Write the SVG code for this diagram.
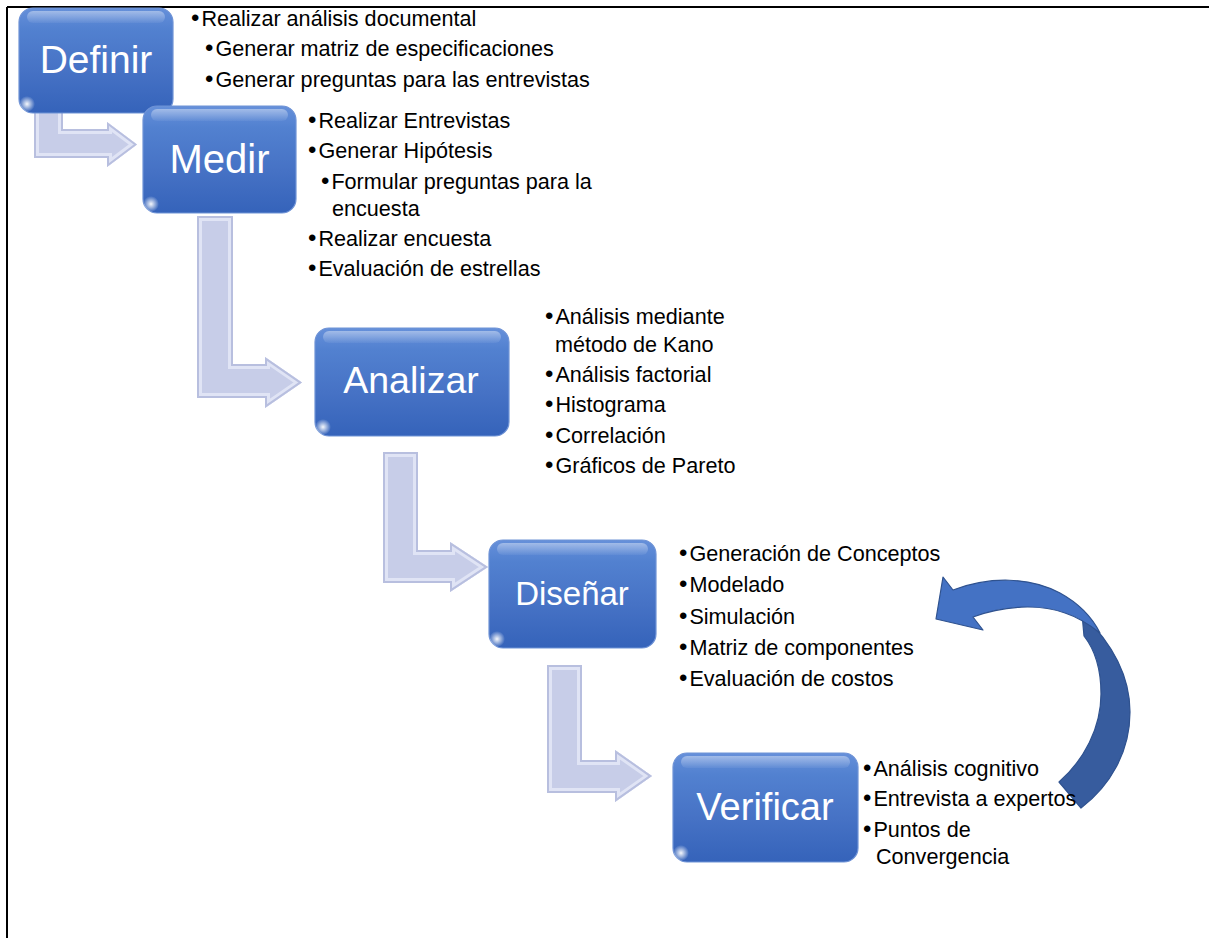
<svg xmlns="http://www.w3.org/2000/svg" xmlns:xlink="http://www.w3.org/1999/xlink" width="1209" height="938" viewBox="0 0 1209 938">
<style>
.lbl{font-family:"Liberation Sans",Arial,sans-serif;fill:#ffffff;text-anchor:middle}
.txt{font-family:"Liberation Sans",Arial,sans-serif;font-size:21.6px;fill:#000000}
.b{font-size:24px}
.box{fill:url(#boxGrad);stroke:#6f93d6;stroke-width:1.2}
.hl{fill:url(#hlGrad)}
.glow{fill:url(#glowGrad)}
.arr{fill:#c7cde8}
.bev{fill:none;stroke:#e0e4f5;stroke-width:10}
.bevd{fill:none;stroke:#b8bfdf;stroke-width:4}
</style>
<defs>
<linearGradient id="boxGrad" x1="0" y1="0" x2="0" y2="1">
<stop offset="0" stop-color="#6690da"/>
<stop offset="0.2" stop-color="#5281d0"/>
<stop offset="0.6" stop-color="#4672c5"/>
<stop offset="1" stop-color="#3563ba"/>
</linearGradient>
<linearGradient id="hlGrad" x1="0" y1="0" x2="0" y2="1">
<stop offset="0" stop-color="#ffffff" stop-opacity="0.4"/>
<stop offset="1" stop-color="#ffffff" stop-opacity="0.05"/>
</linearGradient>
<radialGradient id="glowGrad">
<stop offset="0" stop-color="#ffffff" stop-opacity="0.95"/>
<stop offset="1" stop-color="#ffffff" stop-opacity="0"/>
</radialGradient>
<path id="a1" d="M34,105 H63 V129 H107 V122 L137,144.5 L107,167 V158 H34 Z"/>
<path id="a2" d="M197,216 H233 V364 H265 V357 L302,382.5 L265,408 V398 H197 Z"/>
<path id="a3" d="M383,452 H418 V550 H450 V542 L488,567 L450,592 V583 H383 Z"/>
<path id="a4" d="M547,665 H582 V760 H615 V750 L652,776 L615,802 V793 H547 Z"/>
<clipPath id="c1"><use xlink:href="#a1"/></clipPath>
<clipPath id="c2"><use xlink:href="#a2"/></clipPath>
<clipPath id="c3"><use xlink:href="#a3"/></clipPath>
<clipPath id="c4"><use xlink:href="#a4"/></clipPath>
</defs>
<rect x="0" y="0" width="1209" height="938" fill="#ffffff"/>
<g id="frame">
<line x1="7" y1="7" x2="1209" y2="7" stroke="#000" stroke-width="2.2"/>
<line x1="7" y1="7" x2="7" y2="938" stroke="#000" stroke-width="2"/>
</g>
<g id="connectors">
<g id="arrow1"><use xlink:href="#a1" class="arr"/><use xlink:href="#a1" class="bev" clip-path="url(#c1)"/><use xlink:href="#a1" class="bevd" clip-path="url(#c1)"/></g>
<g id="arrow2"><use xlink:href="#a2" class="arr"/><use xlink:href="#a2" class="bev" clip-path="url(#c2)"/><use xlink:href="#a2" class="bevd" clip-path="url(#c2)"/></g>
<g id="arrow3"><use xlink:href="#a3" class="arr"/><use xlink:href="#a3" class="bev" clip-path="url(#c3)"/><use xlink:href="#a3" class="bevd" clip-path="url(#c3)"/></g>
<g id="arrow4"><use xlink:href="#a4" class="arr"/><use xlink:href="#a4" class="bev" clip-path="url(#c4)"/><use xlink:href="#a4" class="bevd" clip-path="url(#c4)"/></g>
<g id="loopArrow" stroke="#2f528f" stroke-width="1.2" stroke-linejoin="round">
<path d="M1082,614 C1112,643 1130,675 1130,712 C1130,752 1110,786 1081,808 L1059,782 C1084,760 1101,728 1101,694 C1101,668 1095,650 1084,636 Z" fill="#375c9e"/>
<path d="M936,619 L943,577 L953,590 C990,576 1030,577 1060,593 C1080,604 1092,617 1100,633 C1090,625 1080,618 1065,613 C1040,604 1005,605 973,617 L983,630 Z" fill="#4472c4"/>
</g>
</g>
<g id="node-definir">
<rect class="box" x="19" y="8" width="154" height="105" rx="14"/>
<rect class="hl" x="27" y="11" width="138" height="12" rx="6"/>
<circle class="glow" cx="27" cy="104" r="8"/>
<text class="lbl" x="96" y="73" font-size="39">Definir</text>
<text class="txt" x="191" y="26"><tspan class="b">•</tspan><tspan dx="2">Realizar análisis documental</tspan></text>
<text class="txt" x="205" y="56"><tspan class="b">•</tspan><tspan dx="2">Generar matriz de especificaciones</tspan></text>
<text class="txt" x="205" y="87"><tspan class="b">•</tspan><tspan dx="2">Generar preguntas para las entrevistas</tspan></text>
</g>
<g id="node-medir">
<rect class="box" x="143" y="106" width="153" height="107" rx="14"/>
<rect class="hl" x="151" y="109" width="137" height="12" rx="6"/>
<circle class="glow" cx="151" cy="204" r="8"/>
<text class="lbl" x="219.5" y="173" font-size="40">Medir</text>
<text class="txt" x="308" y="128"><tspan class="b">•</tspan><tspan dx="2">Realizar Entrevistas</tspan></text>
<text class="txt" x="308" y="158"><tspan class="b">•</tspan><tspan dx="2">Generar Hipótesis</tspan></text>
<text class="txt" x="321" y="189"><tspan class="b">•</tspan><tspan dx="2">Formular preguntas para la</tspan></text>
<text class="txt" x="332" y="216">encuesta</text>
<text class="txt" x="308" y="246"><tspan class="b">•</tspan><tspan dx="2">Realizar encuesta</tspan></text>
<text class="txt" x="308" y="276"><tspan class="b">•</tspan><tspan dx="2">Evaluación de estrellas</tspan></text>
</g>
<g id="node-analizar">
<rect class="box" x="315" y="328" width="194" height="108" rx="14"/>
<rect class="hl" x="323" y="331" width="178" height="12" rx="6"/>
<circle class="glow" cx="323" cy="427" r="8"/>
<text class="lbl" x="411" y="393" font-size="37.5">Analizar</text>
<text class="txt" x="545" y="324"><tspan class="b">•</tspan><tspan dx="2">Análisis mediante</tspan></text>
<text class="txt" x="555" y="352">método de Kano</text>
<text class="txt" x="545" y="382"><tspan class="b">•</tspan><tspan dx="2">Análisis factorial</tspan></text>
<text class="txt" x="545" y="412"><tspan class="b">•</tspan><tspan dx="2">Histograma</tspan></text>
<text class="txt" x="545" y="443"><tspan class="b">•</tspan><tspan dx="2">Correlación</tspan></text>
<text class="txt" x="545" y="473"><tspan class="b">•</tspan><tspan dx="2">Gráficos de Pareto</tspan></text>
</g>
<g id="node-disenar">
<rect class="box" x="489" y="540" width="167" height="108" rx="14"/>
<rect class="hl" x="497" y="543" width="151" height="12" rx="6"/>
<circle class="glow" cx="497" cy="639" r="8"/>
<text class="lbl" x="572" y="605" font-size="33">Diseñar</text>
<text class="txt" x="679" y="561"><tspan class="b">•</tspan><tspan dx="2">Generación de Conceptos</tspan></text>
<text class="txt" x="679" y="592"><tspan class="b">•</tspan><tspan dx="2">Modelado</tspan></text>
<text class="txt" x="679" y="624"><tspan class="b">•</tspan><tspan dx="2">Simulación</tspan></text>
<text class="txt" x="679" y="655"><tspan class="b">•</tspan><tspan dx="2">Matriz de componentes</tspan></text>
<text class="txt" x="679" y="686"><tspan class="b">•</tspan><tspan dx="2">Evaluación de costos</tspan></text>
</g>
<g id="node-verificar">
<rect class="box" x="673" y="753" width="185" height="109" rx="14"/>
<rect class="hl" x="681" y="756" width="169" height="12" rx="6"/>
<circle class="glow" cx="681" cy="853" r="8"/>
<text class="lbl" x="765" y="820" font-size="38">Verificar</text>
<text class="txt" x="863" y="776"><tspan class="b">•</tspan><tspan dx="2">Análisis cognitivo</tspan></text>
<text class="txt" x="863" y="806"><tspan class="b">•</tspan><tspan dx="2">Entrevista a expertos</tspan></text>
<text class="txt" x="863" y="837"><tspan class="b">•</tspan><tspan dx="2">Puntos de</tspan></text>
<text class="txt" x="876" y="864">Convergencia</text>
</g>
</svg>
